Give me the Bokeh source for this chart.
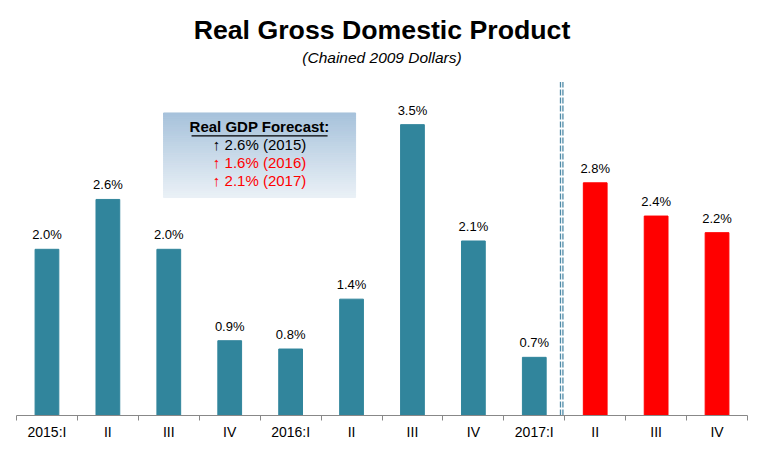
from bokeh.plotting import figure
from bokeh.models import FixedTicker, Range1d
from bokeh.core.properties import value
from bokeh.embed import file_html
from bokeh.resources import INLINE

categories = ["2015:I", "II", "III", "IV", "2016:I", "II", "III", "IV", "2017:I", "II", "III", "IV"]
gdp_values = [2.0, 2.6, 2.0, 0.9, 0.8, 1.4, 3.5, 2.1, 0.7, 2.8, 2.4, 2.2]
is_forecast = [False] * 9 + [True] * 3
forecast_lines = ["\u2191 2.6% (2015)", "\u2191 1.6% (2016)", "\u2191 2.1% (2017)"]
forecast_colors = ["#000000", "#ff0000", "#ff0000"]

TEAL = "#31859c"
RED = "#ff0000"
FONT = "Liberation Sans"

PXU = 83.5  # pixels per percentage point
FRAME_H = 417
p = figure(width=750, height=442, output_backend="svg", toolbar_location=None,
           x_range=Range1d(0, 12), y_range=Range1d(0, FRAME_H / PXU),
           min_border_left=16, min_border_right=3, min_border_top=0, min_border_bottom=0)
p.outline_line_color = None
p.grid.visible = False
p.yaxis.visible = False

def ydat(screen_y):
    return (417 - screen_y) / PXU

def xdat(screen_x):
    return (screen_x - 16) / 60.9

n = len(categories)
centers = [i + 0.5 for i in range(n)]
colors = [RED if f else TEAL for f in is_forecast]
p.vbar(x=centers, top=gdp_values, width=0.39, color=colors)

labels = [f"{v:.1f}%" for v in gdp_values]
p.text(x=centers, y=gdp_values, text=labels, text_align="center", text_baseline="bottom",
       y_offset=-7, text_font=value(FONT), text_font_size="13px", text_color="black")

# x axis: labels at centers, tick marks at boundaries
ax = p.xaxis[0]
ax.ticker = FixedTicker(ticks=centers, minor_ticks=list(range(n + 1)))
ax.major_label_overrides = {c: lab for c, lab in zip(centers, categories)}
ax.major_tick_line_color = None
ax.major_tick_out = 0
ax.major_tick_in = 0
ax.minor_tick_out = 5
ax.minor_tick_in = 0
ax.minor_tick_line_color = "#888888"
ax.axis_line_color = "#888888"
ax.major_label_text_font = FONT
ax.major_label_text_font_size = "14px"
ax.major_label_text_color = "black"
ax.major_label_standoff = 3

# divider between actual and forecast
for dx in (-0.02, 0.02):
    p.line(x=[8.95 + dx, 8.95 + dx], y=[0, ydat(82)], line_color="#4f8ba8",
           line_width=1.3, line_dash="6 2")

# Title
p.text(x=[6.0], y=[ydat(30)], text=["Real Gross Domestic Product"], text_align="center",
       text_baseline="middle", text_font=value(FONT), text_font_style="bold",
       text_font_size="26.7px", text_color="black")
p.text(x=[6.0], y=[ydat(57)], text=["(Chained 2009 Dollars)"], text_align="center",
       text_baseline="middle", text_font=value(FONT), text_font_style="italic",
       text_font_size="15.5px", text_color="black")

# Forecast box with vertical gradient
x0, x1 = xdat(163), xdat(355)
top_s, bot_s = 113, 198
steps = 40
top_c = (0xa7, 0xc2, 0xdb)
bot_c = (0xe9, 0xf0, 0xf6)
qs = dict(left=[], right=[], top=[], bottom=[], color=[])
for i in range(steps):
    t = i / (steps - 1)
    c = tuple(int(round(top_c[k] + (bot_c[k] - top_c[k]) * t)) for k in range(3))
    sy0 = top_s + (bot_s - top_s) * i / steps
    sy1 = top_s + (bot_s - top_s) * (i + 1) / steps
    qs["left"].append(x0); qs["right"].append(x1)
    qs["top"].append(ydat(sy0)); qs["bottom"].append(ydat(sy1))
    qs["color"].append("#%02x%02x%02x" % c)
p.quad(left="left", right="right", top="top", bottom="bottom", color="color", source=qs)

cx = xdat(259)
p.text(x=[cx], y=[ydat(127)], text=["Real GDP Forecast:"], text_align="center",
       text_baseline="middle", text_font=value(FONT), text_font_style="bold",
       text_font_size="15px", text_color="black")
p.line(x=[xdat(191), xdat(327)], y=[ydat(136), ydat(136)], line_color="black", line_width=1.2)
for i, (t, c) in enumerate(zip(forecast_lines, forecast_colors)):
    p.text(x=[cx], y=[ydat(145 + 18 * i)], text=[t], text_align="center",
           text_baseline="middle", text_font=value(FONT), text_font_size="15px", text_color=c)

open("out.html", "w").write(file_html(p, INLINE))
